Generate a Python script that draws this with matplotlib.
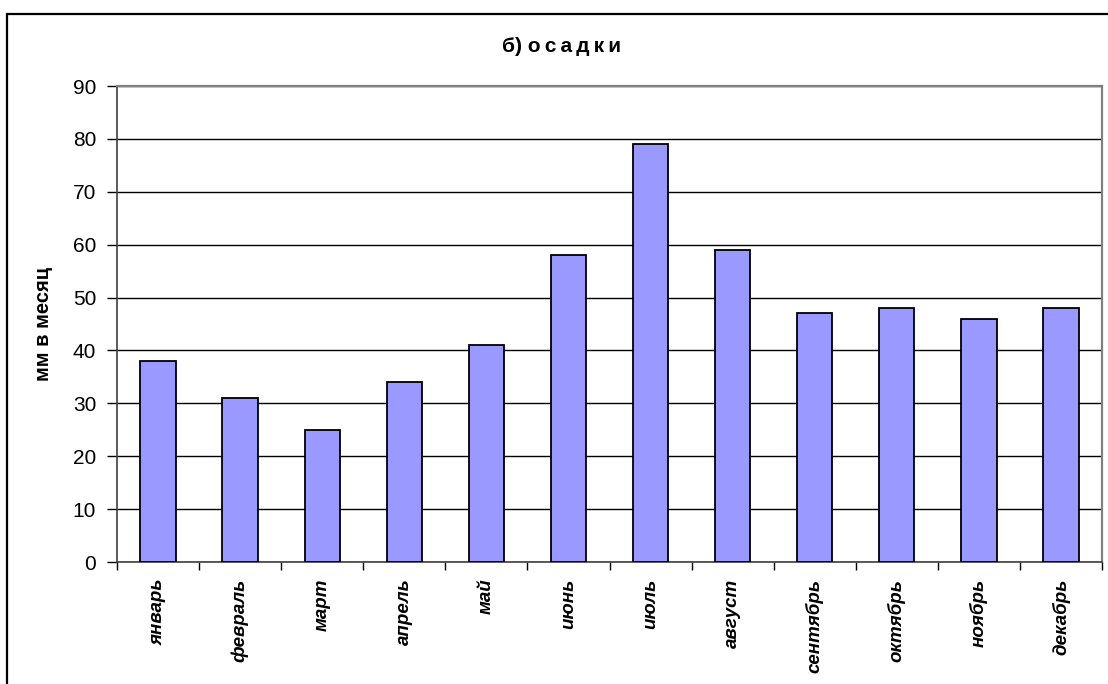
import matplotlib
matplotlib.use("Agg")
import matplotlib.pyplot as plt
from matplotlib.patches import Rectangle
import numpy as np

plt.rcParams['font.family'] = ['Liberation Sans', 'DejaVu Sans']

# данные: осадки по месяцам, мм
months = ["январь", "февраль", "март", "апрель", "май", "июнь",
          "июль", "август", "сентябрь", "октябрь", "ноябрь", "декабрь"]
precip = [38, 31, 25, 34, 41, 58, 79, 59, 47, 48, 46, 48]
y_ticks = [0, 10, 20, 30, 40, 50, 60, 70, 80, 90]

fig = plt.figure(figsize=(11.08, 6.84), dpi=100)
ax = fig.add_axes([117 / 1108, 1 - 562 / 684, (1102 - 117) / 1108, (562 - 86) / 684])

# рамка вокруг всей диаграммы (уходит за край справа и снизу)
fig.patches.append(Rectangle((7 / 1108, -0.1), 1.2, 1.1 - 14 / 684,
                             transform=fig.transFigure, fill=False,
                             edgecolor="black", linewidth=1.6))

x = np.arange(len(months))
ax.bar(x, precip, width=0.43, color="#9999FF", edgecolor="black",
       linewidth=1.3, zorder=3)

ax.set_xlim(-0.5, len(months) - 0.5)
ax.set_ylim(0, 90)
ax.set_yticks(y_ticks)
ax.set_yticklabels([str(v) for v in y_ticks], fontsize=15)
ax.yaxis.grid(True, color="black", linewidth=1.0, zorder=0)

# деления по границам категорий
ax.set_xticks(np.arange(len(months) + 1) - 0.5)
ax.set_xticklabels([])
ax.set_xticks(x, minor=True)
ax.set_xticklabels(months, minor=True, rotation=90, fontsize=13.5,
                   fontweight="bold", fontstyle="italic", va="top")
ax.tick_params(axis="x", which="minor", length=0, pad=12)
ax.tick_params(axis="x", which="major", length=6, width=1.0, direction="out")
ax.tick_params(axis="y", length=7, width=1.0, pad=8)

for side in ["top", "right"]:
    ax.spines[side].set_color("#808080")
    ax.spines[side].set_linewidth(1.6)
for side in ["left", "bottom"]:
    ax.spines[side].set_color("#404040")
    ax.spines[side].set_linewidth(1.2)

ax.set_ylabel("мм в месяц", fontsize=14.5, fontweight="bold", labelpad=14)

# заголовок с разрядкой букв
title = "б) " + "\u2009".join("осадки")
fig.text(562 / 1108, 1 - 47 / 684, title,
         ha="center", va="center", fontsize=15, fontweight="bold")

fig.savefig("out.png", dpi=100)
